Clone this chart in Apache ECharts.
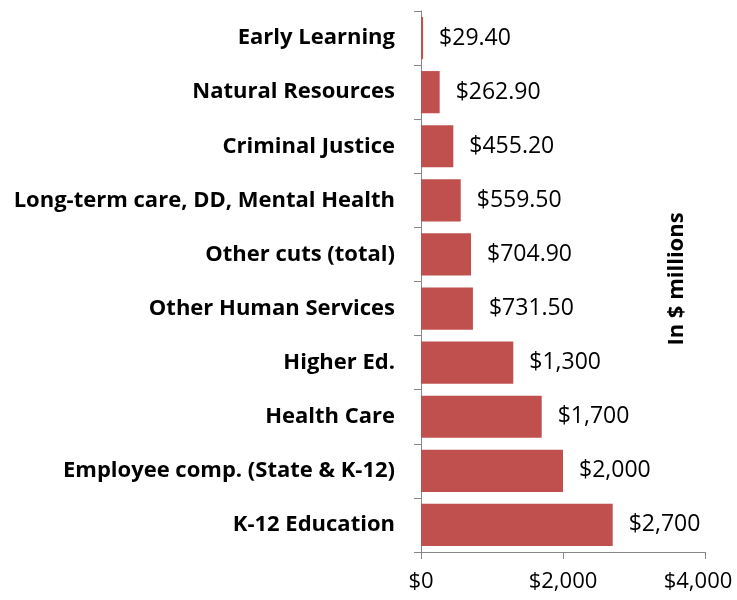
<!DOCTYPE html>
<html>
<head>
<meta charset="utf-8">
<script src="https://cdn.jsdelivr.net/npm/echarts@6/dist/echarts.min.js"></script>
<style>
    html, body { margin: 0; padding: 0; background: #fff; }
    #chart { width: 737px; height: 600px; }
</style>
</head>
<body>
<div id="chart"></div>
<script>
    // categories, bottom to top (as drawn by the category axis)
    const categories = [
        'K-12 Education',
        'Employee comp. (State & K-12)',
        'Health Care',
        'Higher Ed.',
        'Other Human Services',
        'Other cuts (total)',
        'Long-term care, DD, Mental Health',
        'Criminal Justice',
        'Natural Resources',
        'Early Learning'
    ];
    const cuts = [2700, 2000, 1700, 1300, 731.5, 704.9, 559.5, 455.2, 262.9, 29.4];
    const valueLabels = ['$2,700', '$2,000', '$1,700', '$1,300', '$731.50', '$704.90', '$559.50', '$455.20', '$262.90', '$29.40'];
    const xTicks = [0, 2000, 4000];

    const axisGrey = '#868686';
    const font = '"Open Sans", sans-serif';
    const xMax = xTicks[xTicks.length - 1];

    const myChart = echarts.init(document.getElementById('chart'));
    const option = {
        animation: false,
        grid: {
            left: 421,
            right: 32,
            top: 11,
            bottom: 48,
            containLabel: false,
            outerBoundsMode: 'none'
        },
        xAxis: {
            type: 'value',
            min: xTicks[0],
            max: xMax,
            interval: 2000,
            axisLine: { show: true, lineStyle: { color: axisGrey, width: 1 } },
            axisTick: { show: true, length: 7, lineStyle: { color: axisGrey } },
            splitLine: { show: false },
            axisLabel: {
                color: '#000',
                fontFamily: font,
                fontSize: 22,
                margin: 19,
                // last label is nudged left so it stays inside the canvas
                formatter: v => {
                    const s = '$' + v.toLocaleString('en-US');
                    return v === xMax ? '{m|' + s + '}' : s;
                },
                rich: {
                    m: { fontFamily: font, fontSize: 22, color: '#000', padding: [0, 14, 0, 0] }
                }
            }
        },
        yAxis: {
            type: 'category',
            data: categories,
            axisLine: { show: true, lineStyle: { color: axisGrey, width: 1 } },
            axisTick: { show: true, length: 7, lineStyle: { color: axisGrey } },
            axisLabel: {
                color: '#000',
                fontFamily: font,
                fontWeight: 'bold',
                fontSize: 22,
                margin: 26
            }
        },
        series: [{
            type: 'bar',
            data: cuts,
            barCategoryGap: '22%',
            itemStyle: { color: '#C0504D' },
            label: {
                show: true,
                position: 'right',
                distance: 16,
                color: '#000',
                fontFamily: font,
                fontSize: 23,
                formatter: p => valueLabels[p.dataIndex]
            }
        }],
        graphic: [{
            type: 'text',
            x: 677,
            y: 279,
            rotation: Math.PI / 2,
            style: {
                text: 'In $ millions',
                font: 'bold 22px ' + font,
                fill: '#000',
                align: 'center',
                verticalAlign: 'middle'
            }
        }]
    };
    myChart.setOption(option);
</script>
</body>
</html>
